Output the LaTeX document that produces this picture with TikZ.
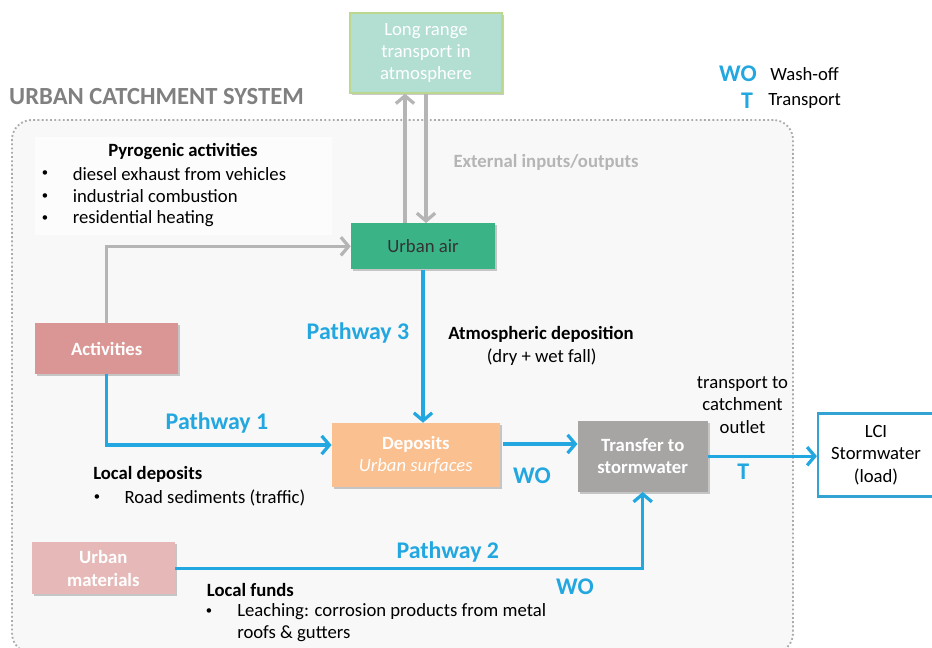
\documentclass[tikz,border=0pt]{standalone}
\usepackage{fontspec}
\setmainfont{Carlito}
\usetikzlibrary{arrows.meta,shadows}
\definecolor{pathblue}{HTML}{22A7E0}
\definecolor{airgreen}{HTML}{3AB387}
\definecolor{longfill}{HTML}{B3DFD3}
\definecolor{longedge}{HTML}{BBD88E}
\definecolor{actrose}{HTML}{DA9694}
\definecolor{matrose}{HTML}{E6B9B8}
\definecolor{depfill}{HTML}{FAC090}
\definecolor{transgray}{HTML}{A7A4A4}
\definecolor{lciblue}{HTML}{33A3D3}
\definecolor{sysfill}{HTML}{F8F8F8}
\definecolor{sysedge}{HTML}{ABABAB}
\definecolor{feedgray}{HTML}{B5B5B5}
\definecolor{titlegray}{HTML}{808080}
\newcommand\smalldot{{\fontsize{9}{9}\selectfont\textbullet}}

\begin{document}
\begin{tikzpicture}[x=0.025cm, y=-0.025cm,
  every node/.style={font=\fontsize{13.3}{16}\selectfont, inner sep=0pt},
  sized/.style 2 args={minimum width=#1*0.025cm, minimum height=#2*0.025cm},
  box/.style={align=center, drop shadow={shadow xshift=1.5pt, shadow yshift=-1.5pt, opacity=0.35, fill=black!60}},
  bold text/.style={font=\fontsize{13.3}{16}\selectfont\bfseries},
  big/.style={font=\fontsize{17}{20}\selectfont\bfseries},
  blue label/.style={big, text=pathblue},
  left text/.style={anchor=west, align=left},
  flow/.style={draw=pathblue, line width=2.3pt, -{Straight Barb[length=5.5pt,width=13pt]}},
  feed/.style={draw=feedgray, line width=2.3pt, -{Straight Barb[length=5.5pt,width=13pt]}}]
\useasboundingbox (0,0) rectangle (932,648);
\node[sized={781}{533}, draw=sysedge, dash pattern={on 1.3pt off 1.7pt}, line width=1.3pt, fill=sysfill, rounded corners=14pt] (system) at (402.5,386.5) {};

\node[box, sized={152}{80}, fill=longfill, draw=longedge, line width=1pt, text=white, font=\fontsize{13.3}{15.5}\selectfont] (long) at (426,53) {Long range\\transport in\\atmosphere};
\node[big, font=\fontsize{17.5}{20}\selectfont\bfseries, text=titlegray] (title) at (156.5,97) {URBAN CATCHMENT SYSTEM};
\node[blue label] (wo) at (738,74) {WO};
\node[left text] (washoff) at (770,74) {Wash-off};
\node[blue label] (t) at (747,101) {T};
\node[left text] (transport) at (768,101) {Transport};

\node[sized={297}{98}, fill=white!60!sysfill] (pyrobg) at (183,186) {};
\node[bold text] (pyro) at (183,152) {Pyrogenic activities};
\foreach \y/\txt [count=\i] in {174/diesel exhaust from vehicles,196.5/industrial combustion,218.5/residential heating}{
  \node (dot\i) at (45,\y) {\smalldot};
  \node[left text] (pyro\i) at (72.5,\y) {\txt};
}
\node[bold text, text=feedgray] (ext) at (546,162) {External inputs/outputs};

\node[box, sized={144}{46}, fill=airgreen, text=black!80] (air) at (423,246.3) {Urban air};
\node[box, sized={143}{51}, fill=actrose, text=white, bold text] (act) at (106.7,348.7) {Activities};
\node[box, sized={168}{64}, fill=depfill, text=white] (dep) at (415.8,455) {\textbf{Deposits}\\\textit{Urban surfaces}};
\node[box, sized={130}{71}, fill=transgray, text=white, bold text] (trans) at (642.7,456.2) {Transfer to\\stormwater};
\node[sized={116}{83}, draw=lciblue, line width=1.5pt, fill=white, align=center] (lci) at (876,455) {LCI\\Stormwater\\(load)};
\node[box, sized={143}{52}, fill=matrose, text=white, bold text] (mat) at (103.3,568.3) {Urban\\materials};

\draw[feed] ([xshift=-0.45cm]air.north) -- ([xshift=-0.45cm]air.north |- long.south);
\draw[feed] (long.south) -- (long.south |- air.north);
\draw[feed] (act.north) |- (air.west);
\draw[flow] (air.south) -- (air.south |- dep.north);
\draw[flow] (act.south) |- ([yshift=0.25cm]dep.west);
\draw[flow] ([xshift=2pt,yshift=0.275cm]dep.east) -- ([yshift=0.275cm]dep.east -| trans.west);
\draw[flow] (trans.east) -- (trans.east -| lci.west);
\draw[flow] (mat.east) -| (trans.south);

\node[blue label] (p3) at (358,333.3) {Pathway 3};
\node[bold text] (atmo) at (541,334) {Atmospheric deposition};
\node (fall) at (541.7,356.7) {(dry + wet fall)};
\node[blue label] (p1) at (217,423.3) {Pathway 1};
\node[bold text, anchor=west] (localdep) at (93,474) {Local deposits};
\node (dot4) at (97,497.7) {\smalldot};
\node[left text] (road) at (124.3,497.7) {Road sediments (traffic)};
\node[blue label] (wo1) at (532,476) {WO};
\node[align=center, font=\fontsize{13.3}{15.8}\selectfont] (outlet) at (742.5,405) {transport to\\catchment\\outlet};
\node[blue label] (t1) at (743.3,471.7) {T};
\node[blue label] (p2) at (447.8,551.7) {Pathway 2};
\node[blue label] (wo2) at (575,586.7) {WO};
\node[bold text, anchor=west] (funds) at (206.7,590) {Local funds};
\node (dot5) at (209,612) {\smalldot};
\node[left text] (leach) at (237,612) {Leaching: corrosion products from metal};
\node[left text] (roofs) at (237,634) {roofs \& gutters};
\end{tikzpicture}
\end{document}
